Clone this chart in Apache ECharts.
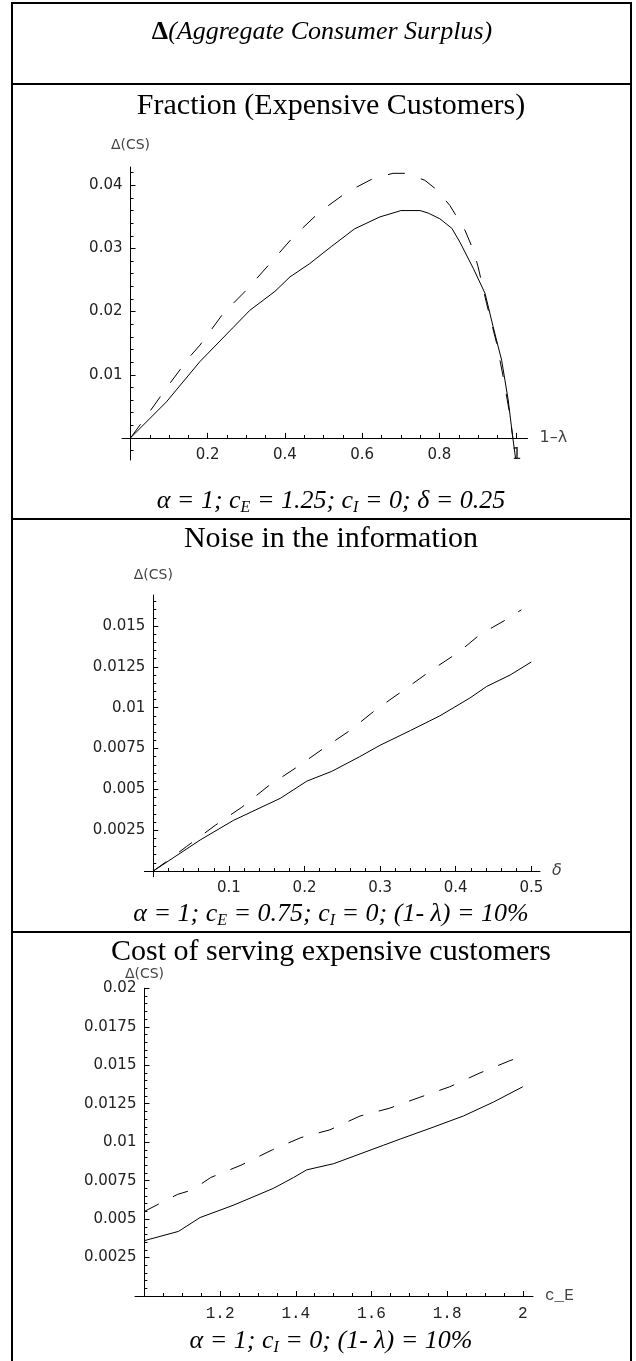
<!DOCTYPE html>
<html>
<head>
<meta charset="utf-8">
<script src="https://cdn.jsdelivr.net/npm/echarts@6/dist/echarts.min.js"></script>
<style>
  html, body { margin: 0; padding: 0; background: #fff; }
  #chart { width: 636px; height: 1361px; }
</style>
</head>
<body>
<div id="chart"></div>
<script>
// panel 1: Fraction (Expensive Customers), x = 1-lambda
var fracSolid = [[0,0],[0.093,0.0057],[0.18,0.0121],[0.266,0.0175],[0.309,0.0202],[0.374,0.0232],
  [0.413,0.0255],[0.464,0.0276],[0.52,0.0303],[0.58,0.0331],[0.646,0.0350],[0.69,0.0358],[0.70,0.0360],
  [0.75,0.0360],[0.771,0.0356],[0.801,0.0347],[0.832,0.0332],[0.853,0.0310],[0.888,0.0268],[0.918,0.0229],
  [0.939,0.0176],[0.961,0.0123],[0.978,0.0060],[0.99,0],[0.997,-0.0032]];
var fracDashed = [[0,0],[0.041,0.0034],[0.093,0.0079],[0.154,0.0129],[0.18,0.0147],[0.24,0.0197],
  [0.30,0.0234],[0.361,0.0276],[0.421,0.0318],[0.49,0.0358],[0.56,0.0389],[0.629,0.0411],[0.68,0.0419],
  [0.715,0.0419],[0.762,0.0408],[0.793,0.0393],[0.827,0.0368],[0.866,0.0329],[0.888,0.0297],[0.90,0.0271],
  [0.922,0.0213],[0.948,0.0150],[0.965,0.0097],[0.983,0.0034],[0.99,0]];
var fracXTicks = [0.2, 0.4, 0.6, 0.8, 1];
var fracYTicks = [0.01, 0.02, 0.03, 0.04];

// panel 2: Noise in the information, x = delta
var noiseSolid = [[0,0],[0.062,0.0019],[0.106,0.0031],[0.168,0.00445],[0.203,0.0055],[0.236,0.0061],
  [0.273,0.0070],[0.30,0.0077],[0.34,0.0086],[0.379,0.0095],[0.419,0.0106],[0.441,0.0113],[0.472,0.0120],
  [0.50,0.0128]];
var noiseDashed = [[0,0],[0.018,0.0006],[0.044,0.0015],[0.082,0.0028],[0.117,0.0039],[0.152,0.0052],
  [0.188,0.0063],[0.225,0.0075],[0.26,0.0086],[0.295,0.0099],[0.332,0.0111],[0.368,0.0123],[0.404,0.0134],
  [0.43,0.0144],[0.448,0.0149],[0.467,0.0154],[0.487,0.0160]];
var noiseXTicks = [0.1, 0.2, 0.3, 0.4, 0.5];
var noiseYTicks = [0.0025, 0.005, 0.0075, 0.01, 0.0125, 0.015];

// panel 3: Cost of serving expensive customers, x = c_E
var costSolid = [[1.0,0.0036],[1.09,0.0042],[1.147,0.0051],[1.235,0.0059],[1.341,0.0070],[1.394,0.0077],
  [1.429,0.0082],[1.50,0.0086],[1.632,0.0098],[1.676,0.0102],[1.755,0.0109],[1.843,0.0117],[1.922,0.0126],
  [2.0,0.0136]];
var costDashed = [[1.0,0.0055],[1.087,0.0066],[1.127,0.0069],[1.175,0.0077],[1.255,0.0085],[1.338,0.0095],
  [1.414,0.0103],[1.49,0.0108],[1.57,0.0117],[1.647,0.0122],[1.726,0.0129],[1.807,0.0136],[1.887,0.0145],
  [1.966,0.0153],[1.99,0.0155]];
var costXTicks = [1.2, 1.4, 1.6, 1.8, 2];
var costYTicks = [0.0025, 0.005, 0.0075, 0.01, 0.0125, 0.015, 0.0175, 0.02];

var SANS = '"DejaVu Sans", sans-serif';
var SERIF = '"Liberation Serif", "Times New Roman", serif';
var MONO = '"Liberation Mono", "Courier New", monospace';

function minorTicks(step, from, to) {
  var out = [];
  for (var v = from; v <= to + step / 2; v += step) out.push(+v.toFixed(6));
  return out;
}
function fmt(v) { return String(+(+v).toFixed(6)); }

var panels = [
  { left: 122, right: 527.5, top: 167, bottom: 460,
    xRange: [-0.022, 1.028], yRange: [-0.0035, 0.0429], cross: [0, 0],
    xMajor: fracXTicks, xMinor: minorTicks(0.05, 0.05, 1),
    yMajor: fracYTicks, yMinor: minorTicks(0.002, -0.002, 0.042),
    xName: '1\u2013\u03bb', xNameFont: SANS, xLabelFont: SANS, xLabelSize: 15, yNameGap: 15,
    solid: fracSolid, dashed: fracDashed, dash: [17, 17] },
  { left: 144.4, right: 540, top: 595, bottom: 876.7,
    xRange: [-0.0118, 0.5115], yRange: [-0.00035, 0.0169], cross: [0, 0],
    xMajor: noiseXTicks, xMinor: minorTicks(0.02, 0.02, 0.5),
    yMajor: noiseYTicks, yMinor: minorTicks(0.0005, 0.0005, 0.0165),
    xName: '\u03b4', xNameFont: SANS, xNameItalic: true, xLabelFont: SANS, xLabelSize: 15, yNameGap: 13,
    solid: noiseSolid, dashed: noiseDashed, dash: [16, 16] },
  { left: 135, right: 533, top: 988.3, bottom: 1296,
    xRange: [0.975, 2.027], yRange: [0, 0.02], cross: [1, 0],
    xMajor: costXTicks, xMinor: minorTicks(0.05, 1.05, 2),
    yMajor: costYTicks, yMinor: minorTicks(0.0005, 0.0005, 0.02),
    xName: 'c_E', xNameFont: MONO, xLabelFont: MONO, xLabelSize: 16, yNameGap: 5,
    solid: costSolid, dashed: costDashed, dash: [16, 16] }
];

var grids = [], xAxes = [], yAxes = [], series = [];
panels.forEach(function (p, i) {
  var w = p.right - p.left, h = p.bottom - p.top;
  var yOff = -(p.cross[0] - p.xRange[0]) / (p.xRange[1] - p.xRange[0]) * w;
  var xOff = -(p.cross[1] - p.yRange[0]) / (p.yRange[1] - p.yRange[0]) * h;
  grids.push({ left: p.left, top: p.top, width: w, height: h });

  var xb = { type: 'value', gridIndex: i, position: 'bottom', min: p.xRange[0], max: p.xRange[1],
    offset: xOff, splitLine: { show: false } };
  xAxes.push(Object.assign({}, xb, {
    axisLine: { onZero: false, lineStyle: { color: '#000', width: 1 } },
    axisTick: { inside: true, length: 5, customValues: p.xMajor, lineStyle: { color: '#000' } },
    axisLabel: { customValues: p.xMajor, formatter: fmt, margin: 10, color: '#222',
      fontFamily: p.xLabelFont, fontSize: p.xLabelSize },
    name: p.xName, nameLocation: 'end', nameGap: 12,
    nameTextStyle: { color: '#444', fontFamily: p.xNameFont, fontSize: 16,
      fontStyle: p.xNameItalic ? 'italic' : 'normal', verticalAlign: 'middle' }
  }));
  xAxes.push(Object.assign({}, xb, {
    axisLine: { show: false, onZero: false },
    axisTick: { inside: true, length: 3, customValues: p.xMinor, lineStyle: { color: '#000' } },
    axisLabel: { show: false }
  }));

  var yb = { type: 'value', gridIndex: i, position: 'left', min: p.yRange[0], max: p.yRange[1],
    offset: yOff, splitLine: { show: false } };
  yAxes.push(Object.assign({}, yb, {
    axisLine: { onZero: false, lineStyle: { color: '#000', width: 1 } },
    axisTick: { inside: true, length: 5, customValues: p.yMajor, lineStyle: { color: '#000' } },
    axisLabel: { customValues: p.yMajor, formatter: fmt, margin: 8, color: '#222',
      fontFamily: SANS, fontSize: 15 },
    name: '\u0394(CS)', nameLocation: 'end', nameGap: p.yNameGap,
    nameTextStyle: { color: '#444', fontFamily: SANS, fontSize: 14 }
  }));
  yAxes.push(Object.assign({}, yb, {
    axisLine: { show: false, onZero: false },
    axisTick: { inside: true, length: 3, customValues: p.yMinor, lineStyle: { color: '#000' } },
    axisLabel: { show: false }
  }));

  series.push({ type: 'line', xAxisIndex: 2 * i, yAxisIndex: 2 * i, data: p.solid,
    symbol: 'none', silent: true, lineStyle: { color: '#000', width: 1 } });
  series.push({ type: 'line', xAxisIndex: 2 * i, yAxisIndex: 2 * i, data: p.dashed,
    symbol: 'none', silent: true, lineStyle: { color: '#000', width: 1, type: p.dash } });
});

// table frame and texts
var capBase = { fontFamily: SERIF, fontStyle: 'italic', fontSize: 26, lineHeight: 30, fill: '#000' };
var capSub = { fontFamily: SERIF, fontStyle: 'italic', fontSize: 16, lineHeight: 30,
  padding: [13, 0, 0, 0], fill: '#000' };
function caption(text, y) {
  return { type: 'text', x: 331, y: y, style: { text: text, align: 'center', verticalAlign: 'middle',
    fontFamily: SERIF, fontStyle: 'italic', fontSize: 26, fill: '#000',
    rich: { s: capSub, n: capBase } } };
}
function header(text, y) {
  return { type: 'text', x: 331, y: y, style: { text: text, align: 'center', verticalAlign: 'middle',
    fontFamily: SERIF, fontSize: 30, fill: '#000' } };
}
function hline(y) {
  return { type: 'line', shape: { x1: 12, y1: y, x2: 631, y2: y }, style: { stroke: '#000', lineWidth: 2 } };
}

var graphics = [
  { type: 'rect', shape: { x: 12, y: 3, width: 619, height: 1370 },
    style: { fill: 'none', stroke: '#000', lineWidth: 2 } },
  hline(84), hline(519), hline(932),
  { type: 'text', x: 322, y: 32, style: { text: '{d|\u0394}{t|(Aggregate Consumer Surplus)}',
    align: 'center', verticalAlign: 'middle', fontFamily: SERIF, fontSize: 26, fill: '#000',
    rich: { d: { fontStyle: 'normal', fontWeight: 'bold', fontFamily: SERIF, fontSize: 26, fill: '#000' },
            t: { fontStyle: 'italic', fontFamily: SERIF, fontSize: 26, fill: '#000' } } } },
  header('Fraction (Expensive Customers)', 106),
  header('Noise in the information', 539),
  header('Cost of serving expensive customers', 952),
  caption('{n|\u03b1 = 1; c}{s|E}{n| = 1.25; c}{s|I}{n| = 0; \u03b4 = 0.25}', 501),
  caption('{n|\u03b1 = 1; c}{s|E}{n| = 0.75; c}{s|I}{n| = 0; (1- \u03bb) = 10%}', 914),
  caption('{n|\u03b1 = 1; c}{s|I}{n| = 0; (1- \u03bb) = 10%}', 1341)
];

var chart = echarts.init(document.getElementById('chart'));
chart.setOption({
  animation: false,
  backgroundColor: '#fff',
  grid: grids,
  xAxis: xAxes,
  yAxis: yAxes,
  series: series,
  graphic: graphics
});
</script>
</body>
</html>
